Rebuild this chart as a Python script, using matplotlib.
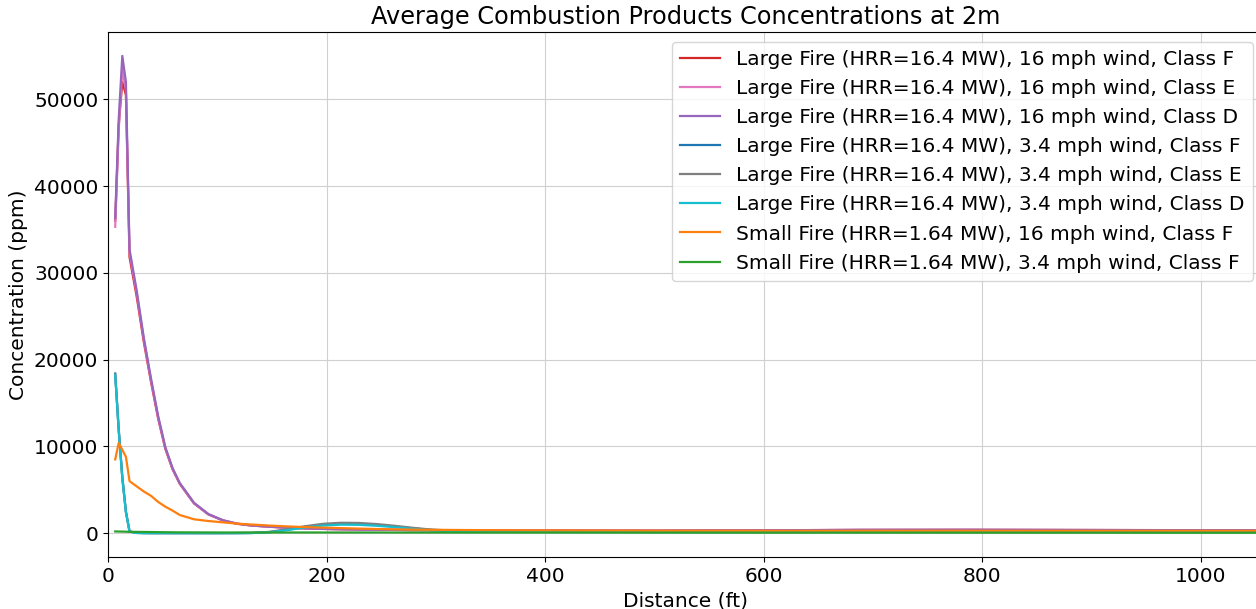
import numpy as np
import matplotlib
matplotlib.use("Agg")
import matplotlib.pyplot as plt

# sample distances (ft)
distance_ft = [6.6, 9.8, 13.1, 16.4, 19.7, 26.2, 32.8, 39.4, 45.9, 52.5, 59.1, 65.6,
               78.7, 91.9, 105.0, 118.1, 131.2, 147.6, 164.0, 180.4, 196.9, 213.3,
               229.7, 246.1, 262.5, 278.9, 295.3, 328.1, 393.7, 492.1, 590.6, 689.0,
               787.4, 885.8, 984.3, 1066.3]

large_16_F = [36000, 47000, 52000, 50500, 31800, 27300, 22000, 17400, 13200, 9700, 7350, 5700,
              3430, 2160, 1470, 1080, 880, 740, 630, 550, 490, 450, 420, 395, 375, 355,
              345, 325, 295, 285, 325, 375, 385, 365, 345, 335]
large_16_E = [35300, 46500, 53500, 51000, 32300, 27700, 22300, 17600, 13350, 9800, 7420, 5750,
              3460, 2180, 1480, 1090, 890, 745, 635, 555, 495, 455, 425, 398, 378, 358,
              348, 328, 298, 288, 328, 378, 388, 368, 348, 338]
large_16_D = [36300, 47700, 55000, 52000, 32700, 28000, 22500, 17800, 13500, 9900, 7500, 5800,
              3500, 2200, 1500, 1100, 900, 750, 640, 560, 500, 460, 430, 400, 380, 360,
              350, 330, 300, 290, 330, 380, 390, 370, 350, 340]
large_34_F = [18400, 12000, 6500, 2500, 200, 30, 10, 5, 5, 5, 5, 5,
              5, 5, 5, 10, 20, 120, 400, 720, 980, 1090, 1070, 950, 770, 560,
              380, 200, 150, 140, 140, 150, 150, 150, 150, 150]
large_34_E = [18300, 11900, 6400, 2450, 190, 30, 10, 5, 5, 5, 5, 5,
              5, 5, 5, 10, 25, 150, 450, 800, 1080, 1200, 1180, 1050, 850, 620,
              420, 220, 160, 150, 150, 160, 160, 160, 160, 160]
large_34_D = [18200, 11800, 6300, 2400, 180, 30, 10, 5, 5, 5, 5, 5,
              5, 5, 5, 10, 20, 100, 350, 650, 880, 980, 960, 850, 690, 500,
              340, 180, 140, 130, 130, 140, 140, 140, 140, 140]
small_16_F = [8500, 10400, 9600, 8800, 6000, 5400, 4800, 4300, 3600, 3050, 2600, 2100,
              1600, 1400, 1250, 1100, 1000, 880, 780, 700, 640, 580, 530, 480, 440, 410,
              390, 360, 320, 290, 280, 280, 280, 280, 280, 280]
small_34_F = [200, 190, 180, 170, 160, 150, 140, 130, 120, 110, 100, 95,
              90, 85, 80, 80, 80, 80, 80, 80, 80, 80, 80, 80, 75, 75,
              75, 70, 70, 65, 60, 60, 55, 55, 50, 50]

series = [
    ("Large Fire (HRR=16.4 MW), 16 mph wind, Class F", large_16_F, "tab:red"),
    ("Large Fire (HRR=16.4 MW), 16 mph wind, Class E", large_16_E, "tab:pink"),
    ("Large Fire (HRR=16.4 MW), 16 mph wind, Class D", large_16_D, "tab:purple"),
    ("Large Fire (HRR=16.4 MW), 3.4 mph wind, Class F", large_34_F, "tab:blue"),
    ("Large Fire (HRR=16.4 MW), 3.4 mph wind, Class E", large_34_E, "tab:gray"),
    ("Large Fire (HRR=16.4 MW), 3.4 mph wind, Class D", large_34_D, "tab:cyan"),
    ("Small Fire (HRR=1.64 MW), 16 mph wind, Class F", small_16_F, "tab:orange"),
    ("Small Fire (HRR=1.64 MW), 3.4 mph wind, Class F", small_34_F, "tab:green"),
]

fig = plt.figure(figsize=(12.56, 6.09), dpi=100)
ax = fig.add_axes([108 / 1256, 52 / 609, 1155 / 1256, 525 / 609])

for label, vals, color in series:
    ax.plot(distance_ft, vals, color=color, label=label, linewidth=1.6)

ax.set_xlim(0, 1057)
ax.set_title("Average Combustion Products Concentrations at 2m", fontsize=17.3)
ax.set_xlabel("Distance (ft)", fontsize=14.5)
ax.set_ylabel("Concentration (ppm)", fontsize=14.5)
ax.tick_params(labelsize=14.5)
ax.grid(True, color="#d0d0d0")
ax.legend(loc="upper right", fontsize=14.5, labelspacing=0.5)

fig.savefig("out.png", dpi=100)
